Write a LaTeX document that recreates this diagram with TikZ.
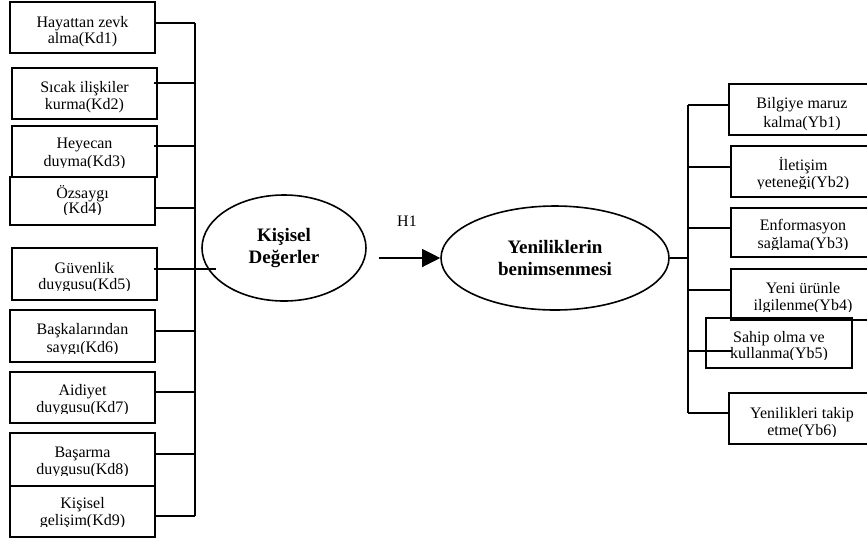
\documentclass[tikz,border=0pt]{standalone}
\usepackage{fontspec}
\setmainfont{Liberation Serif}
\usetikzlibrary{shapes.geometric,arrows.meta}

% gap (pt) kept below the second baseline before the text is cut off
\newcommand\clipgap{1}

% \itemcard{name}{x1}{y1}{x2}{y2}{baseline 1}{baseline 2}{line 1}{line 2}
% A framed indicator box whose two text lines are cut off just below the second baseline.
\newcommand\itemcard[9]{%
  \node[itembox, minimum width={(#4-#2)*1pt}, minimum height={(#5-#3)*1pt}]
    (#1) at ({(#2+#4)/2},{(#3+#5)/2}) {};
  \begin{scope}
    \clip (#2,#3) rectangle (#4,{#7+\clipgap});
    \node[itemtext] (#1a) at ({(#2+#4)/2},#6) {#8};
    \node[itemtext] (#1b) at ({(#2+#4)/2},#7) {#9};
  \end{scope}}

\begin{document}
\begin{tikzpicture}[x=1pt,y=-1pt,
  itembox/.style={draw=black, line width=1.5pt, inner sep=0pt, outer sep=0pt},
  itemtext/.style={anchor=base, inner sep=0pt, font=\fontsize{16}{17}\selectfont},
  latent/.style={ellipse, draw, line width=1.6pt, align=center, inner sep=0pt,
                 font=\fontsize{19}{22}\selectfont\bfseries},
  link/.style={line width=1.2pt},
  bus/.style={line width=2.4pt},
]
\useasboundingbox (0,0) rectangle (867,542);

% ---- personal values indicators ----
\renewcommand\clipgap{5}
\itemcard{kd1}{10}{2}{155}{53}{27}{43}{Hayattan zevk}{alma(Kd1)}
\itemcard{kd2}{12}{68}{157}{119}{92}{109}{Sıcak ilişkiler}{kurma(Kd2)}
\renewcommand\clipgap{1}
\itemcard{kd3}{12}{126}{157}{177}{148}{166}{Heyecan}{duyma(Kd3)}
\itemcard{kd4}{10}{177}{155}{225}{198}{213}{Özsaygı}{(Kd4)}
\itemcard{kd5}{12}{248}{157}{300}{273}{289}{Güvenlik}{duygusu(Kd5)}
\itemcard{kd6}{10}{310}{155}{362}{334}{352}{Başkalarından}{saygı(Kd6)}
\itemcard{kd7}{10}{372}{155}{423}{395}{412}{Aidiyet}{duygusu(Kd7)}
\itemcard{kd8}{10}{433}{155}{486}{457}{474}{Başarma}{duygusu(Kd8)}
\itemcard{kd9}{10}{486}{155}{537}{508}{525}{Kişisel}{gelişim(Kd9)}

% ---- innovation adoption indicators ----
\renewcommand\clipgap{5}
\itemcard{yb1}{729}{84}{875}{135}{108}{127}{Bilgiye maruz}{kalma(Yb1)}
\renewcommand\clipgap{1}
\itemcard{yb2}{731}{146}{875}{197}{170}{187}{İletişim}{yeteneği(Yb2)}
\itemcard{yb3}{731}{208}{875}{257}{230}{248}{Enformasyon}{sağlama(Yb3)}
\itemcard{yb4}{731}{269}{875}{320}{293}{310}{Yeni ürünle}{ilgilenme(Yb4)}
\itemcard{yb5}{706}{318}{852}{368}{342}{358}{Sahip olma ve}{kullanma(Yb5)}
\itemcard{yb6}{729}{393}{875}{444}{418}{435}{Yenilikleri takip}{etme(Yb6)}

% ---- latent constructs ----
\node[latent, minimum width=164pt, minimum height=106pt] (degerler) at (284,248)
  {Kişisel\\Değerler};
\node[latent, minimum width=228pt, minimum height=104pt] (benimseme) at (555,258)
  {Yeniliklerin\\benimsenmesi};

% ---- left bus ----
\coordinate (l1) at (195,23);
\coordinate (l2) at (195,83);
\coordinate (l3) at (195,146);
\coordinate (l4) at (195,208);
\coordinate (l5) at (195,269);
\coordinate (l6) at (195,331);
\coordinate (l7) at (195,392);
\coordinate (l8) at (195,454);
\coordinate (l9) at (195,516);
\draw[bus] (l1) -- (l9);
\draw[link] (l1 -| kd1.east) -- (l1);
\draw[link] ([xshift=-3pt]l2 -| kd2.east) -- (l2);
\draw[link] ([xshift=-3pt]l3 -| kd3.east) -- (l3);
\draw[link] (l4 -| kd4.east) -- (l4);
\draw[link] ([xshift=-3pt]l5 -| kd5.east) -- ([xshift=15pt]l5 -| degerler.west);
\draw[link] (l6 -| kd6.east) -- (l6);
\draw[link] (l7 -| kd7.east) -- (l7);
\draw[link] (l8 -| kd8.east) -- (l8);
\draw[link] (l9 -| kd9.east) -- (l9);

% ---- hypothesis path ----
\coordinate (hstart) at (379,258);
\draw[link, -{Triangle[length=18pt,width=18pt]}] (hstart) -- (hstart -| benimseme.west);
\node[font=\fontsize{16}{17}\selectfont] (h1) at (407,221) {H1};

% ---- right bus ----
\coordinate (r1) at (688,105);
\coordinate (r2) at (688,167);
\coordinate (r3) at (688,228);
\coordinate (r4) at (688,290);
\coordinate (r5) at (688,351);
\coordinate (r6) at (688,413);
\draw[bus] (r1) -- (r6);
\draw[link] (benimseme.east) -- (benimseme.east -| r1);
\draw[link] (r1) -- (r1 -| yb1.west);
\draw[link] (r2) -- (r2 -| yb2.west);
\draw[link] (r3) -- (r3 -| yb3.west);
\draw[link] (r4) -- (r4 -| yb4.west);
\draw[link] (r5) -- ([xshift=26pt]r5 -| yb5.west);
\draw[link] (r6) -- (r6 -| yb6.west);
\end{tikzpicture}
\end{document}
